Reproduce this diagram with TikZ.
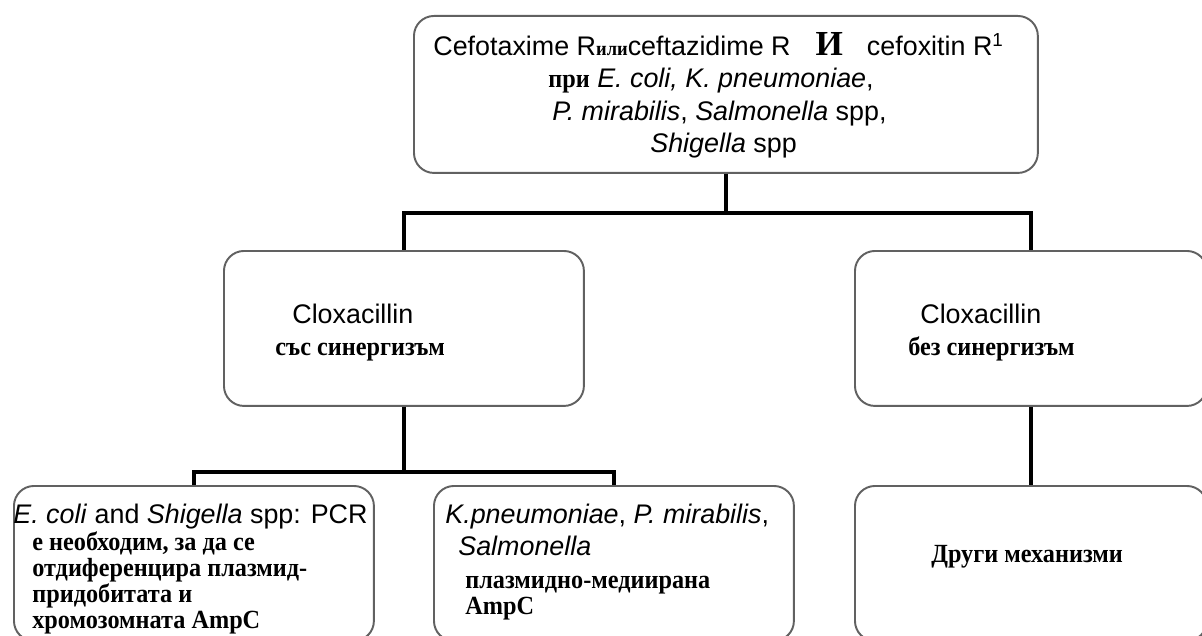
\documentclass[tikz,border=0pt]{standalone}
\usepackage{graphicx}
\usepackage{fontspec}
\setmainfont{Liberation Serif}
\newfontfamily\arialfont{Liberation Sans}
\usetikzlibrary{positioning}

\newcommand{\bgb}[1]{\scalebox{1}[1.08]{\rmfamily\bfseries #1}}

\begin{document}
\begin{tikzpicture}[x=0.02cm, y=-0.02cm,
  every node/.style={inner sep=0pt, font=\arialfont\fontsize{15.3}{17}\selectfont},
  box/.style={draw=black!62, line width=1.1pt, rounded corners=0.4cm, anchor=north west, minimum width=#1, minimum height=3.1cm},
  txt/.style={anchor=base west},
  bgtxt/.style={anchor=base west, font=\rmfamily\bfseries\fontsize{13.8}{15}\selectfont},
  link/.style={line width=2.3pt, black}]
\clip (0,0) rectangle (1202,635);
\fill[white] (0,0) rectangle (1202,635);

% boxes
\node[box=12.48cm, minimum height=3.14cm] (top) at (413,15) {};
\node[box=7.2cm] (midL) at (223,250) {};
\node[box=7.04cm] (midR) at (854,250) {};
\node[box=7.2cm] (botL) at (13,485) {};
\node[box=7.2cm] (botM) at (433,485) {};
\node[box=7.04cm] (botR) at (854,485) {};

% connectors
\draw[link] (top.south) -- ++(0,39) -| (midL.north);
\draw[link] (top.south) -- ++(0,39) -| (midR.north);
\draw[link] (midL.south) -- ++(0,65) -| (botL.north);
\draw[link] (midL.south) -- ++(0,65) -| (botM.north);
\draw[link] (midR.south) -- (botR.north);

% texts
\node[txt] (top1) at (433,56) {Cefotaxime R\bgb{\fontsize{10.5}{12}\selectfont или}ceftazidime R\hspace{0.5cm}{\rmfamily\bfseries\fontsize{20}{22}\selectfont И}\hspace{0.48cm}cefoxitin R\textsuperscript{1}};
\node[txt] (top2) at (548,88) {\bgb{\fontsize{13.8}{15}\selectfont при} \textit{E. coli, K. pneumoniae},};
\node[txt] (top3) at (552,120) {\textit{P. mirabilis}, \textit{Salmonella} spp,};
\node[txt] (top4) at (650,152) {\textit{Shigella} spp};

\node[txt] (midL1) at (292,323) {Cloxacillin};
\node[bgtxt] (midL2) at (275,355) {\bgb{със синергизъм}};
\node[txt] (midR1) at (920,323) {Cloxacillin};
\node[bgtxt] (midR2) at (908,355) {\bgb{без синергизъм}};

\node[txt] (botL1) at (13,523) {\textit{E. coli} and \textit{Shigella} spp: PCR};
\foreach \line/\y [count=\i] in {е необходим{,} за да се/550, отдиференцира плазмид-/576,
    придобитата и/602, хромозомната AmpC/628}
  \node[bgtxt] (botL\i) at (32,\y) {\bgb{\line}};
\node[txt] (botM1) at (445,523) {\textit{K.pneumoniae}, \textit{P. mirabilis},};
\node[txt] (botM2) at (458,555) {\textit{Salmonella}};
\node[bgtxt] (botM3) at (465,588) {\bgb{плазмидно-медиирана}};
\node[bgtxt] (botM4) at (465,614) {\bgb{AmpC}};
\node[bgtxt] (botR1) at (931,562) {\bgb{Други механизми}};
\end{tikzpicture}
\end{document}
